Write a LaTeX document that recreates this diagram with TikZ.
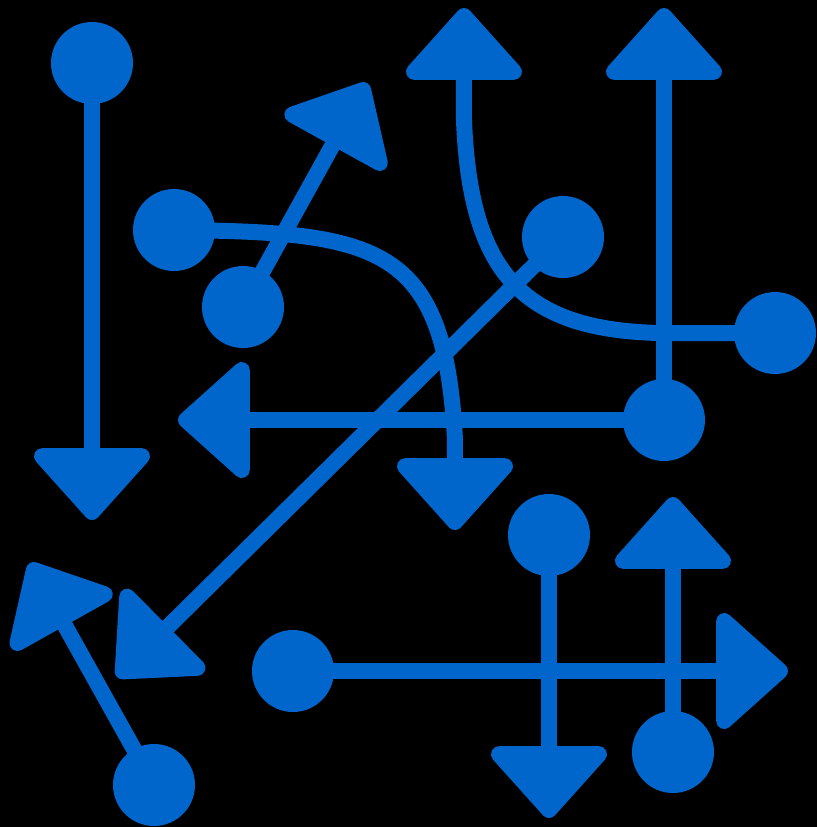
\documentclass[tikz,border=0pt]{standalone}
\usetikzlibrary{arrows.meta}
\definecolor{iconblue}{HTML}{0066CC}
\definecolor{iconbg}{HTML}{000000}

\begin{document}
\begin{tikzpicture}[>={Triangle[length=0.76cm, width=1.32cm, round]}]
  % Styles
  \tikzstyle{startdot} = [circle, fill=iconblue, inner sep=0pt, minimum size=0.82cm]
  \tikzstyle{flowline} = [->, draw=iconblue, line width=0.16cm]

  % Background
  \path[use as bounding box, fill=iconbg] (0,0) rectangle (8.17,-8.27);

  % Start dots
  \node[startdot] (d1) at (0.92,-0.63) {};
  \node[startdot] (d2) at (2.43,-3.07) {};
  \node[startdot] (d3) at (1.74,-2.30) {};
  \node[startdot] (d4) at (7.75,-3.33) {};
  \node[startdot] (d5) at (6.64,-4.20) {};
  \node[startdot] (d7) at (5.63,-2.37) {};
  \node[startdot] (d8) at (1.54,-7.85) {};
  \node[startdot] (d9) at (5.49,-5.35) {};
  \node[startdot] (d10) at (2.93,-6.71) {};
  \node[startdot] (d11) at (6.73,-7.52) {};

  % Arrow tips
  \coordinate (t1) at (0.92,-5.20);
  \coordinate (t2) at (3.67,-0.83);
  \coordinate (t3) at (4.55,-5.30);
  \coordinate (t4) at (4.64,-0.08);
  \coordinate (t5) at (6.64,-0.08);
  \coordinate (t6) at (1.78,-4.20);
  \coordinate (t7) at (1.17,-6.77);
  \coordinate (t8) at (0.30,-5.63);
  \coordinate (t9) at (5.49,-8.18);
  \coordinate (t10) at (7.88,-6.71);
  \coordinate (t11) at (6.73,-4.97);

  % Straight arrows
  \draw[flowline] (d1.center) -- (t1);
  \draw[flowline] (d2.center) -- (t2);
  \draw[flowline] (d5.center) -- (t5);
  \draw[flowline] (d5.center) -- (t6);
  \draw[flowline] (d7.center) -- (t7);
  \draw[flowline] (d8.center) -- (t8);
  \draw[flowline] (d9.center) -- (t9);
  \draw[flowline] (d10.center) -- (t10);
  \draw[flowline] (d11.center) -- (t11);

  % Bent arrows
  \draw[flowline] (d3.center) .. controls (3.80,-2.32) and (4.45,-2.45) .. (4.55,-4.40) -- (t3);
  \draw[flowline] (d4.center) -- (6.60,-3.33) .. controls (5.20,-3.30) and (4.70,-2.70) .. (4.64,-1.20) -- (t4);

\end{tikzpicture}
\end{document}
